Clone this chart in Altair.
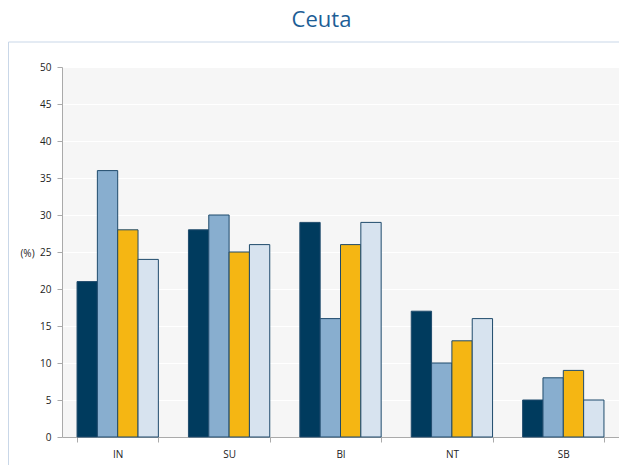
import altair as alt
import pandas as pd

categories = ["IN", "SU", "BI", "NT", "SB"]
series = ["S1", "S2", "S3", "S4"]
s1 = [21, 28, 29, 17, 5]
s2 = [36, 30, 16, 10, 8]
s3 = [28, 25, 26, 13, 9]
s4 = [24, 26, 29, 16, 5]
colors = ["#003b5e", "#88aecf", "#f5b613", "#d7e3ef"]

rows = []
for i, c in enumerate(categories):
    for s, vals in zip(series, [s1, s2, s3, s4]):
        rows.append({"cat": c, "series": s, "value": vals[i]})
df = pd.DataFrame(rows)

bars = alt.Chart(df).mark_bar(stroke="#1f4b6c", strokeWidth=1).encode(
    x=alt.X("cat:N", sort=categories, title=None,
            scale=alt.Scale(paddingInner=0.27, paddingOuter=0.135),
            axis=alt.Axis(labelAngle=0, tickBand="extent", labelFontSize=10,
                          labelColor="#222", labelPadding=7, domainColor="#aaa",
                          tickColor="#aaa", tickSize=5, labelFont="Open Sans")),
    xOffset=alt.XOffset("series:N", sort=series, scale=alt.Scale(paddingInner=0, paddingOuter=0)),
    y=alt.Y("value:Q", scale=alt.Scale(domain=[0, 50]),
            axis=alt.Axis(values=list(range(0, 51, 5)), title="(%)", titleAngle=0,
                          titleX=-35, titleY=186, titleAlign="center", titleBaseline="middle",
                          titleFontWeight="normal", titleFontSize=10, titleColor="#222",
                          titleFont="Open Sans",
                          labelFontSize=10, labelColor="#222", labelFont="Open Sans",
                          domainColor="#aaa", tickColor="#aaa", tickSize=5, labelPadding=6,
                          gridColor="#ffffff", gridWidth=1)),
    color=alt.Color("series:N", sort=series,
                    scale=alt.Scale(domain=series, range=colors), legend=None),
)

frame_df = pd.DataFrame({"a": [0]})
frame = alt.Chart(frame_df).mark_rect(fill=None, stroke="#c9d7e8", strokeWidth=1, clip=False).encode(
    x=alt.value(-53.5), x2=alt.value(620), y=alt.value(-25), y2=alt.value(420)
)

chart = alt.layer(frame, bars).properties(
    width=557, height=370,
    autosize=alt.AutoSizeParams(type="none"),
    padding={"left": 54, "top": 59, "right": 0, "bottom": 28},
    title=alt.TitleParams("Ceuta", fontSize=22, font="Open Sans", fontWeight="normal",
                          color="#1d5e96", anchor="middle", dx=-19, offset=10),
).configure_view(fill="#f6f6f6", stroke=None)

chart.save("out.html", embed_options={"renderer": "svg", "actions": False})
